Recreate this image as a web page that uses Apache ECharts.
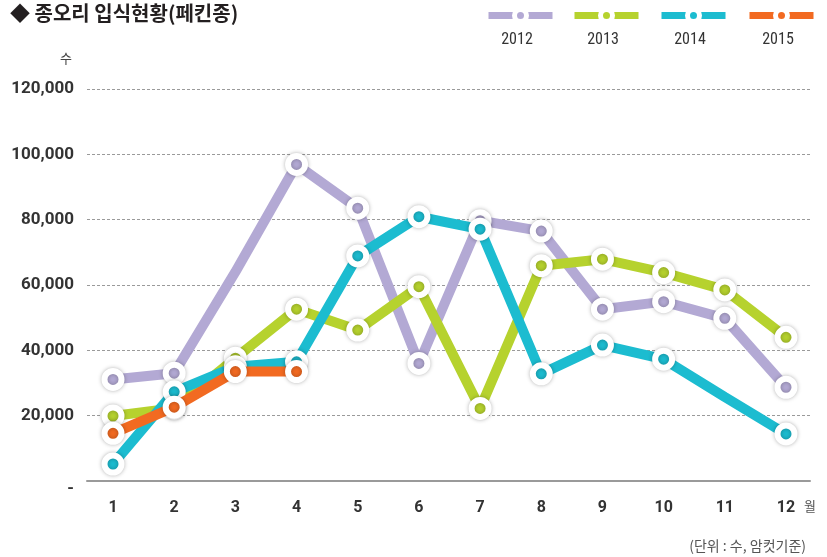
<!DOCTYPE html>
<html>
<head>
<meta charset="utf-8">
<script src="https://cdn.jsdelivr.net/npm/echarts@6/dist/echarts.min.js"></script>
<style>
html,body{margin:0;padding:0;background:#fff;}
#chart{width:827px;height:557px;}
</style>
</head>
<body>
<div id="chart"></div>
<script>
const months = ['1','2','3','4','5','6','7','8','9','10','11','12'];
const years = ['2012','2013','2014','2015'];
const yTicks = [0, 20000, 40000, 60000, 80000, 100000, 120000];
const v2012 = [31100, 33000, 64000, 96900, 83500, 36000, 79700, 76500, 52600, 54900, 49800, 28700];
const v2013 = [19900, 22300, 37600, 52600, 46200, 59500, 22200, 65900, 67900, 63800, 58500, 44000];
const v2014 = [5200, 27300, 35000, 36500, 68900, 80900, 77100, 32800, 41600, 37300, 25700, 14400];
const v2015 = [14600, 22600, 33500, 33500, null, null, null, null, null, null, null, null];
const hiddenMarkers = { '2012': [2], '2014': [10] };
const colors = ['#b3a9d4', '#b6d22e', '#1cbcd0', '#f26a21'];
const legendLefts = [485, 571, 658, 746];

const seriesValues = [v2012, v2013, v2014, v2015];
const chart = echarts.init(document.getElementById('chart'));

function fmt(v){ return String(v).replace(/\B(?=(\d{3})+(?!\d))/g, ','); }

const series = years.map((y, i) => ({
  name: y,
  type: 'line',
  xAxisIndex: 0,
  yAxisIndex: 0,
  data: seriesValues[i].map((v, j) => (hiddenMarkers[y] && hiddenMarkers[y].includes(j)) ? { value: v, symbol: 'none' } : v),
  symbol: 'circle',
  symbolSize: 17,
  showAllSymbol: true,
  connectNulls: false,
  lineStyle: { width: 10, color: colors[i] },
  itemStyle: { color: colors[i], borderColor: '#fff', borderWidth: 6, shadowBlur: 4, shadowColor: 'rgba(0,0,0,0.28)' },
  emphasis: { disabled: true },
  z: 2 + i
}));

const legends = years.map((y, i) => ({
  data: [y],
  left: legendLefts[i],
  top: 7,
  padding: 0,
  itemWidth: 64,
  itemHeight: 15,
  selectedMode: false,
  formatter: () => '',
  lineStyle: { width: 7 },
  itemStyle: { borderWidth: 5, borderColor: '#fff', shadowBlur: 0 }
}));

const legendTexts = years.map((y, i) => ({
  type: 'text',
  x: legendLefts[i] + 32,
  y: 40,
  style: {
    text: y,
    align: 'center',
    verticalAlign: 'middle',
    fill: '#333',
    font: "16px 'Liberation Sans Narrow', 'Roboto Condensed', Roboto, sans-serif"
  }
}));

const option = {
  backgroundColor: '#fff',
  animation: false,
  title: [
    {
      text: '◆ 종오리 입식현황(페킨종)',
      left: 10, top: 3, padding: 0,
      textStyle: { fontFamily: 'Noto Sans CJK KR', fontSize: 20, fontWeight: 'bold', color: '#231f20' }
    },
    {
      text: '(단위 : 수, 암컷기준)',
      right: 21, bottom: 4, padding: 0,
      textStyle: { fontFamily: 'Noto Sans CJK KR', fontSize: 14, fontWeight: 'normal', color: '#555' }
    }
  ],
  legend: legends,
  graphic: legendTexts,
  grid: [
    { left: 113, right: 41, top: 89, bottom: 76 },
    { left: 87, right: 17, top: 89, bottom: 76 }
  ],
  xAxis: [
    {
      type: 'category', gridIndex: 0, data: months, boundaryGap: false,
      axisLine: { show: false }, axisTick: { show: false }, splitLine: { show: false },
      axisLabel: { margin: 19, color: '#333', fontFamily: 'Roboto', fontWeight: 'bold', fontSize: 16 },
      name: '{w|월}', nameLocation: 'end', nameGap: 18,
      nameTextStyle: {
        rich: { w: { fontFamily: 'Noto Sans CJK KR', fontSize: 13, color: '#555', padding: [50, 0, 0, 0] } }
      }
    },
    {
      type: 'value', gridIndex: 1, min: 0, max: 1,
      axisLine: { show: true, lineStyle: { color: '#9a9a9a', width: 2 } },
      axisTick: { show: false }, axisLabel: { show: false }, splitLine: { show: false }
    }
  ],
  yAxis: [
    {
      type: 'value', gridIndex: 0, min: 0, max: 120000, interval: 20000, show: false,
      splitLine: { show: false }
    },
    {
      type: 'value', gridIndex: 1, min: yTicks[0], max: yTicks[yTicks.length - 1], interval: yTicks[1] - yTicks[0],
      axisLine: { show: false }, axisTick: { show: false },
      splitLine: { show: true, lineStyle: { color: '#9a9a9a', type: [3, 2], width: 1 } },
      axisLabel: {
        margin: 13, color: '#333', fontFamily: 'Roboto', fontWeight: 'bold', fontSize: 17,
        formatter: v => v === 0 ? '{d|-}' : fmt(v),
        rich: { d: { padding: [16, 0, 0, 0], fontFamily: 'Roboto', fontWeight: 'bold', fontSize: 17, color: '#333' } }
      },
      name: '수', nameLocation: 'end', nameGap: 24,
      nameTextStyle: { fontFamily: 'Noto Sans CJK KR', fontSize: 13, color: '#444', padding: [0, 42, 0, 0] }
    }
  ],
  series: series
};
chart.setOption(option);
</script>
</body>
</html>
